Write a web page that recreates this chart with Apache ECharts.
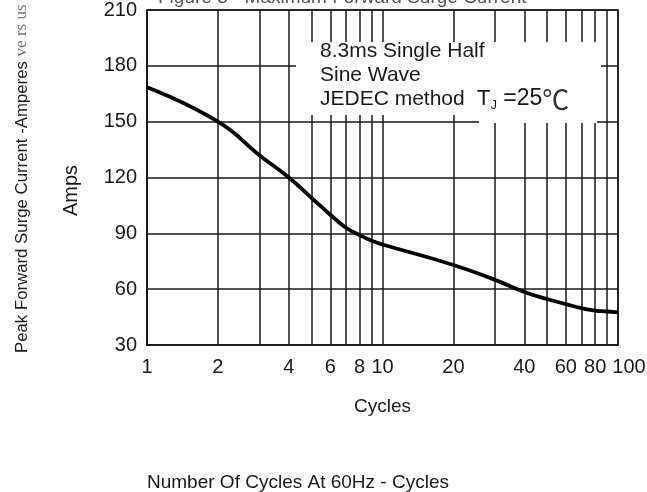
<!DOCTYPE html>
<html>
<head>
<meta charset="utf-8">
<script src="https://cdn.jsdelivr.net/npm/echarts@6/dist/echarts.min.js"></script>
<style>
  html, body { margin: 0; padding: 0; background: #fff; }
  #chart { width: 647px; height: 492px; }
</style>
</head>
<body>
<div id="chart"></div>
<script>
// surge current vs number of cycles
const cycles = [1, 2, 3, 4, 5, 6, 7, 8, 9, 10, 20, 30, 40, 50, 60, 70, 80, 90, 100]
const amps = [168.5, 150, 132, 120, 109, 100, 93, 89, 86, 84, 73, 65, 58.5, 54.7, 52, 49.8, 48.5, 48, 47.5]
const gridCycles = [1, 2, 3, 4, 5, 6, 7, 8, 9, 10, 20, 30, 40, 50, 60, 70, 80, 90, 100]
const labelCycles = [1, 2, 4, 6, 8, 10, 20, 40, 60, 80, 100]

const font = 'Liberation Sans, Arial, sans-serif'
const ink = '#1a1a1a'

const xLabel = {
  showMinLabel: true,
  showMaxLabel: true,
  color: ink,
  fontFamily: font,
  fontSize: 20,
  margin: 12
}

let myChart = echarts.init(document.getElementById('chart'))
myChart.setOption({
  animation: false,
  backgroundColor: '#fff',
  grid: {
    left: 147,
    right: 29,
    top: 10,
    bottom: 147,
    outerBoundsMode: 'none',
    show: true,
    borderColor: ink,
    borderWidth: 1.5
  },
  xAxis: [{
    type: 'log',
    logBase: 10,
    min: 1,
    max: 100,
    position: 'bottom',
    name: 'Cycles',
    nameLocation: 'middle',
    nameGap: 52,
    nameTextStyle: { color: ink, fontFamily: font, fontSize: 19 },
    axisLine: { show: true, lineStyle: { color: ink, width: 1.5 } },
    axisTick: { show: false, customValues: gridCycles },
    axisLabel: Object.assign({ customValues: labelCycles.filter(v => v < 100) }, xLabel),
    splitLine: { show: true, lineStyle: { color: ink, width: 1.5 } },
    minorSplitLine: { show: false }
  }, {
    // "80" and "100" touch in the original; the last label sits on its own axis
    type: 'log',
    logBase: 10,
    min: 1,
    max: 100,
    position: 'bottom',
    axisLine: { show: false },
    axisTick: { show: false },
    axisLabel: Object.assign({ customValues: labelCycles.filter(v => v >= 100), padding: [0, 0, 0, 22] }, xLabel),
    splitLine: { show: false }
  }],
  yAxis: {
    type: 'value',
    min: 30,
    max: 210,
    interval: 30,
    name: 'Amps',
    nameLocation: 'middle',
    nameGap: 66,
    nameRotate: 90,
    nameTextStyle: { color: ink, fontFamily: font, fontSize: 20, padding: [0, 0, 0, -26] },
    axisLine: { show: true, lineStyle: { color: ink, width: 1.5 } },
    axisTick: { show: false },
    axisLabel: {
      color: ink,
      fontFamily: font,
      fontSize: 20,
      margin: 10
    },
    splitLine: { show: true, lineStyle: { color: ink, width: 1.5 } }
  },
  graphic: [
    // white boxes behind the note, they hide the grid
    {
      type: 'rect',
      z: 50,
      shape: { x: 296, y: 42, width: 305, height: 73 },
      style: { fill: '#fff' }
    },
    {
      type: 'rect',
      z: 50,
      shape: { x: 479, y: 42, width: 118, height: 81 },
      style: { fill: '#fff' }
    },
    {
      type: 'text',
      z: 60,
      x: 320,
      y: 51,
      style: {
        text: '8.3ms Single Half\nSine Wave\nJEDEC method',
        fontFamily: font,
        fontSize: 21,
        lineHeight: 24,
        fill: ink,
        verticalAlign: 'top',
        y: -12
      }
    },
    {
      type: 'text',
      z: 60,
      x: 477,
      y: 99,
      style: {
        text: '{t|T}{s|J}{n| =25}{c|℃}',
        verticalAlign: 'middle',
        fill: ink,
        rich: {
          t: { fontFamily: font, fontSize: 22, fill: ink },
          s: { fontFamily: font, fontSize: 13, fill: ink, padding: [12, 0, 0, 0] },
          n: { fontFamily: font, fontSize: 23, fill: ink },
          c: { fontFamily: 'Noto Sans CJK SC, serif', fontSize: 27, fill: '#333', padding: [2, 0, 0, 0] }
        }
      }
    },
    {
      type: 'text',
      x: 158,
      y: 7,
      style: {
        text: 'Figure 3 - Maximum Forward Surge Current',
        fontFamily: font,
        fontSize: 19,
        fill: '#555',
        verticalAlign: 'bottom'
      }
    },
    {
      type: 'text',
      x: 22,
      y: 353,
      rotation: Math.PI / 2,
      style: {
        text: '{a|Peak Forward Surge Current -Amperes }{b|ve rs us}',
        verticalAlign: 'middle',
        rich: {
          a: { fontFamily: 'Liberation Sans Narrow, Liberation Sans, sans-serif', fontSize: 16.8, fill: ink },
          b: { fontFamily: 'Liberation Serif, serif', fontSize: 17, fill: '#777' }
        }
      }
    },
    {
      type: 'text',
      x: 147,
      y: 483,
      style: {
        text: 'Number Of Cycles At 60Hz - Cycles',
        fontFamily: font,
        fontSize: 19,
        fill: ink,
        verticalAlign: 'middle'
      }
    }
  ],
  series: [{
    type: 'line',
    xAxisIndex: 0,
    smooth: 0.5,
    symbol: 'none',
    data: cycles.map((c, i) => [c, amps[i]]),
    lineStyle: { color: '#000', width: 3.8 },
    z: 40
  }]
})
</script>
</body>
</html>
